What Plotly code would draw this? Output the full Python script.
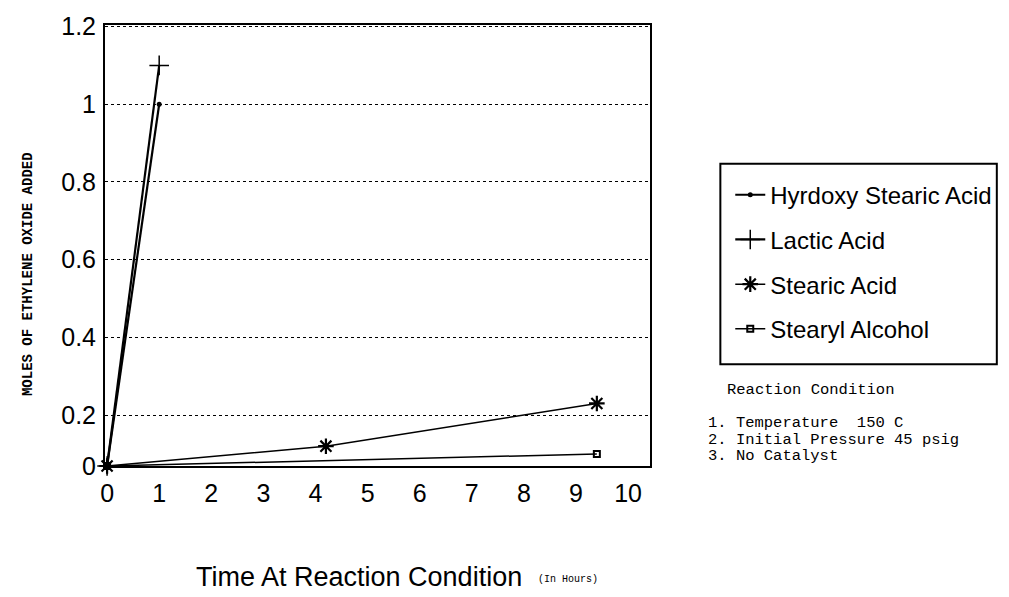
import plotly.graph_objects as go

# ---- data ----
hydroxy_x = [0, 1]
hydroxy_y = [0, 1.0]
lactic_x = [0, 1]
lactic_y = [0, 1.1]
stearic_x = [0, 4.2, 9.4]
stearic_y = [0, 0.12, 0.23]
stearyl_x = [0, 9.4]
stearyl_y = [0, 0.10]

x_ticks = [0, 1, 2, 3, 4, 5, 6, 7, 8, 9, 10]
y_tick_vals = [0.2, 0.4, 0.6, 0.8, 1.0, 1.2]
y_tick_text = ["0.2", "0.4", "0.6", "0.8", "1", "1.2"]

# the printed axis puts "0" at the frame bottom (compressed first step)
Y_FLOOR = 0.069


def floor(vals):
    return [max(v, Y_FLOOR) for v in vals]


series = [
    ("Hyrdoxy Stearic Acid", hydroxy_x, hydroxy_y, dict(symbol="circle", size=5, color="black"), 2.2),
    ("Lactic Acid", lactic_x, lactic_y, dict(symbol="cross-thin", size=14, color="black",
                                             line=dict(width=1.5, color="black")), 2.2),
    ("Stearic Acid", stearic_x, stearic_y, dict(symbol="asterisk-open", size=13, color="black",
                                               line=dict(width=2.2, color="black")), 1.5),
    ("Stearyl Alcohol", stearyl_x, stearyl_y, dict(symbol="square-open", size=6, color="black",
                                                  line=dict(width=2, color="black")), 1.5),
]

fig = go.Figure()
for i, (name, xs, ys, mk, lw) in enumerate(series):
    fig.add_trace(go.Scatter(
        x=xs, y=floor(ys), name=name, mode="lines+markers",
        line=dict(color="black", width=lw), marker=mk,
        legendgroup=f"g{i}", cliponaxis=False,
    ))

L, R, T, B = 105, 354, 15, 131
W, H = 1009, 597
pw, ph = W - L - R, H - T - B


def px_x(p):
    return (p - L) / pw


def px_y(p):
    return (H - B - p) / ph


sans = "Liberation Sans, Arial"
mono = "Liberation Mono, Courier New, monospace"
tick_font = dict(family=sans, size=25, color="black")

fig.update_layout(
    width=W, height=H,
    margin=dict(l=L, r=R, t=T, b=B),
    paper_bgcolor="white", plot_bgcolor="white",
    showlegend=True,
    legend=dict(
        x=px_x(736), y=px_y(166), xanchor="left", yanchor="top",
        font=dict(family=sans, size=24, color="black"),
        bgcolor="rgba(0,0,0,0)", borderwidth=0,
        traceorder="grouped", tracegroupgap=10.5, itemwidth=30,
    ),
    xaxis=dict(
        range=[-0.04, 10.42], tickvals=x_ticks, ticktext=[str(v) for v in x_ticks],
        tickfont=tick_font, showgrid=False, zeroline=False,
        showline=True, linecolor="black", linewidth=2, mirror=True,
        ticks="outside", ticklen=4, tickcolor="rgba(0,0,0,0)",
    ),
    yaxis=dict(
        range=[Y_FLOOR, 1.204], tickvals=[Y_FLOOR] + y_tick_vals,
        ticktext=["0"] + y_tick_text,
        tickfont=tick_font, showgrid=True, gridcolor="black", griddash="dot",
        gridwidth=1.2, zeroline=False,
        showline=True, linecolor="black", linewidth=2, mirror=True,
        ticks="outside", ticklen=2, tickcolor="rgba(0,0,0,0)",
    ),
    shapes=[dict(
        type="rect", xref="paper", yref="paper",
        x0=px_x(726), x1=px_x(1005), y0=px_y(362), y1=px_y(157),
        line=dict(color="black", width=2), fillcolor="rgba(0,0,0,0)",
    )],
    annotations=[
        dict(text="<b>MOLES OF ETHYLENE OXIDE ADDED</b>", textangle=-90,
             xref="paper", yref="paper", x=px_x(28), y=px_y(270),
             xanchor="center", yanchor="middle", showarrow=False,
             font=dict(family=mono, size=14, color="black")),
        dict(text="Time At Reaction Condition", xref="paper", yref="paper",
             x=px_x(195), y=px_y(580), xanchor="left", yanchor="middle", showarrow=False,
             font=dict(family=sans, size=27, color="black")),
        dict(text="(In Hours)", xref="paper", yref="paper",
             x=px_x(540), y=px_y(582), xanchor="left", yanchor="middle", showarrow=False,
             font=dict(family=mono, size=10, color="black")),
        dict(text="Reaction Condition", xref="paper", yref="paper",
             x=px_x(731), y=px_y(388), xanchor="left", yanchor="middle", showarrow=False,
             font=dict(family=mono, size=15.5, color="black")),
        dict(text="1. Temperature  150 C", xref="paper", yref="paper",
             x=px_x(712), y=px_y(422), xanchor="left", yanchor="middle", showarrow=False,
             font=dict(family=mono, size=15.5, color="black")),
        dict(text="2. Initial Pressure 45 psig", xref="paper", yref="paper",
             x=px_x(712), y=px_y(439), xanchor="left", yanchor="middle", showarrow=False,
             font=dict(family=mono, size=15.5, color="black")),
        dict(text="3. No Catalyst", xref="paper", yref="paper",
             x=px_x(712), y=px_y(456), xanchor="left", yanchor="middle", showarrow=False,
             font=dict(family=mono, size=15.5, color="black")),
    ],
)

fig.write_html("out.html")
